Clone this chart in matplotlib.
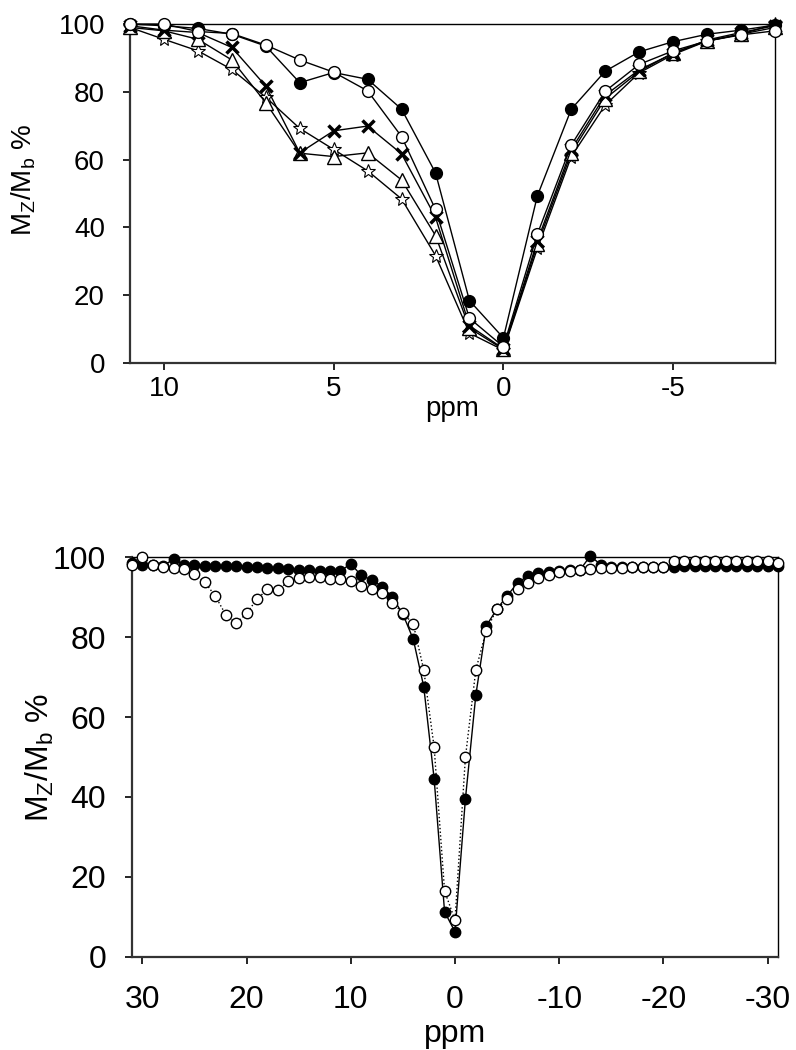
import numpy as np
import matplotlib
matplotlib.use('Agg')
import matplotlib.pyplot as plt

# ---- top panel data (ppm, Mz/Mb %)
ppm_top = [11, 10, 9, 8, 7, 6, 5, 4, 3, 2, 1, 0, -1, -2, -3, -4, -5, -6, -7, -8]
top_filled = [100, 99.5, 98.7, 97, 93.5, 82.7, 85.7, 83.7, 74.9, 56.1, 18.4, 7.4,
              49.3, 74.9, 86.1, 91.8, 94.8, 97, 98.2, 99.7]
top_open = [100, 100, 97.8, 97.2, 93.8, 89.4, 85.8, 80.3, 66.8, 45.3, 13.2, 4.8,
            38, 64.3, 80.2, 88.1, 92.1, 95, 96.8, 98]
top_cross = [99.5, 98.2, 97.5, 93.1, 81.7, 62, 68.5, 69.9, 61.7, 43, 11, 4.2,
             36, 63, 79, 86.5, 91.3, 95.3, 97.5, 99.5]
top_tri = [99, 98, 95.5, 89.4, 76.8, 61.9, 60.9, 62, 54, 37.6, 10.3, 4,
           35, 62, 78, 86, 91.5, 95, 97, 99]
top_star = [99, 95.5, 92.1, 86.6, 78.4, 69.2, 63, 56.7, 48.4, 31.7, 8.8, 3.8,
            33.8, 60.9, 76.1, 85.6, 91, 95, 97, 100]

# ---- bottom panel data, 31 .. -31 ppm
ppm_bot = list(range(31, -32, -1))
bot_filled = [98.5, 98, 98, 97.8, 99.5, 98, 98, 97.8, 97.8, 97.8, 97.7, 97.6, 97.5,
              97.3, 97.2, 97, 96.8, 96.7, 96.6, 96.5, 96.5, 98.3, 95.4, 94.3, 92.6,
              89.9, 85.7, 79.4, 67.6, 44.5, 11.3, 6.3, 39.5, 65.5, 82.8, 86.9, 90.3,
              93.5, 95.3, 95.9, 96.3, 96.5, 96.7, 96.8, 100.3, 98, 97.6, 97.5, 97.5,
              97.5, 97.5, 97.5, 97.5, 97.8, 97.8, 97.8, 97.8, 97.8, 97.8, 97.8, 97.8,
              97.8, 97.8]
bot_open = [98, 100, 98, 97.6, 97.2, 97, 95.7, 93.7, 90.2, 85.6, 83.4, 85.9, 89.5,
            91.9, 91.7, 93.9, 94.7, 94.9, 95.1, 94.5, 94.4, 94.0, 92.8, 91.9, 90.9,
            88.4, 86.1, 83.2, 71.8, 52.4, 16.5, 9.2, 49.9, 71.8, 81.6, 86.9, 89.5,
            91.9, 93.6, 94.7, 95.5, 96.3, 96.5, 96.7, 97, 97.2, 97.3, 97.3, 97.4,
            97.4, 97.5, 97.5, 99, 99, 99, 99, 99, 99, 99, 99, 99,
            99, 98.5]

plt.rcParams['font.family'] = ['Liberation Sans', 'DejaVu Sans']
plt.rcParams['mathtext.fontset'] = 'custom'
plt.rcParams['mathtext.rm'] = 'Liberation Sans'
plt.rcParams['axes.unicode_minus'] = False

fig = plt.figure(figsize=(7.96, 10.5), dpi=100, facecolor='w')
ax0 = fig.add_axes([0.1633, 0.6543, 0.9736 - 0.1633, 0.9771 - 0.6543])
ax1 = fig.add_axes([0.1658, 0.0886, 0.9774 - 0.1658, 0.4695 - 0.0886])

ylab = r'M$_\mathregular{Z}$/M$_\mathregular{b}$ %'

# top panel
kw = dict(color='k', lw=1.0, mec='k', clip_on=False)
ax0.plot(ppm_top, top_star, marker='*', ms=10, mfc='w', mew=0.8, zorder=3, **kw)
ax0.plot(ppm_top, top_tri, marker='^', ms=10.5, mfc='w', mew=1.0, zorder=4, **kw)
ax0.plot(ppm_top, top_cross, marker='x', ms=9, mew=2.5, zorder=5, **kw)
ax0.plot(ppm_top, top_filled, marker='o', ms=8.5, mfc='k', mew=1.0, zorder=6, **kw)
ax0.plot(ppm_top, top_open, marker='o', ms=8.5, mfc='w', mew=1.0, zorder=7, **kw)

ax0.set_xlim(11, -8)
ax0.set_ylim(0, 100)
ax0.set_xticks([10, 5, 0, -5])
ax0.set_yticks([0, 20, 40, 60, 80, 100])
ax0.set_xlabel('ppm', fontsize=20, va='baseline')
ax0.xaxis.set_label_coords(0.5, -0.155)
ax0.set_ylabel(ylab, fontsize=20, va='center')
ax0.yaxis.set_label_coords(-0.165, 0.54)

# bottom panel
ax1.plot(ppm_bot, bot_filled, color='k', lw=1.0, marker='o', ms=7.5, mfc='k', mec='k',
         mew=1.0, zorder=3, clip_on=False)
ax1.plot(ppm_bot, bot_open, color='k', lw=1.0, ls=':', marker='o', ms=7.5, mfc='w',
         mec='k', mew=1.0, zorder=4, clip_on=False)

ax1.set_xlim(31, -31)
ax1.set_ylim(0, 100)
ax1.set_xticks([30, 20, 10, 0, -10, -20, -30])
ax1.set_yticks([0, 20, 40, 60, 80, 100])
ax1.set_xlabel('ppm', fontsize=23, va='baseline')
ax1.xaxis.set_label_coords(0.5, -0.212)
ax1.set_ylabel(ylab, fontsize=23, va='center')
ax1.yaxis.set_label_coords(-0.142, 0.5)

for ax, fs, xpad, ypad in [(ax0, 20, 4.5, 13), (ax1, 23, 15, 13.5)]:
    ax.tick_params(direction='out', length=5, width=1.2, labelsize=fs,
                   top=False, right=False)
    ax.tick_params(axis='x', pad=xpad)
    ax.tick_params(axis='y', pad=ypad)
    ax.spines['left'].set_linewidth(1.6)
    ax.spines['bottom'].set_linewidth(1.6)
    ax.spines['left'].set_color('#333333')
    ax.spines['bottom'].set_color('#333333')
    ax.spines['top'].set_linewidth(1.0)
    ax.spines['right'].set_linewidth(1.0)

plt.savefig('out.png', dpi=100)
plt.close()
